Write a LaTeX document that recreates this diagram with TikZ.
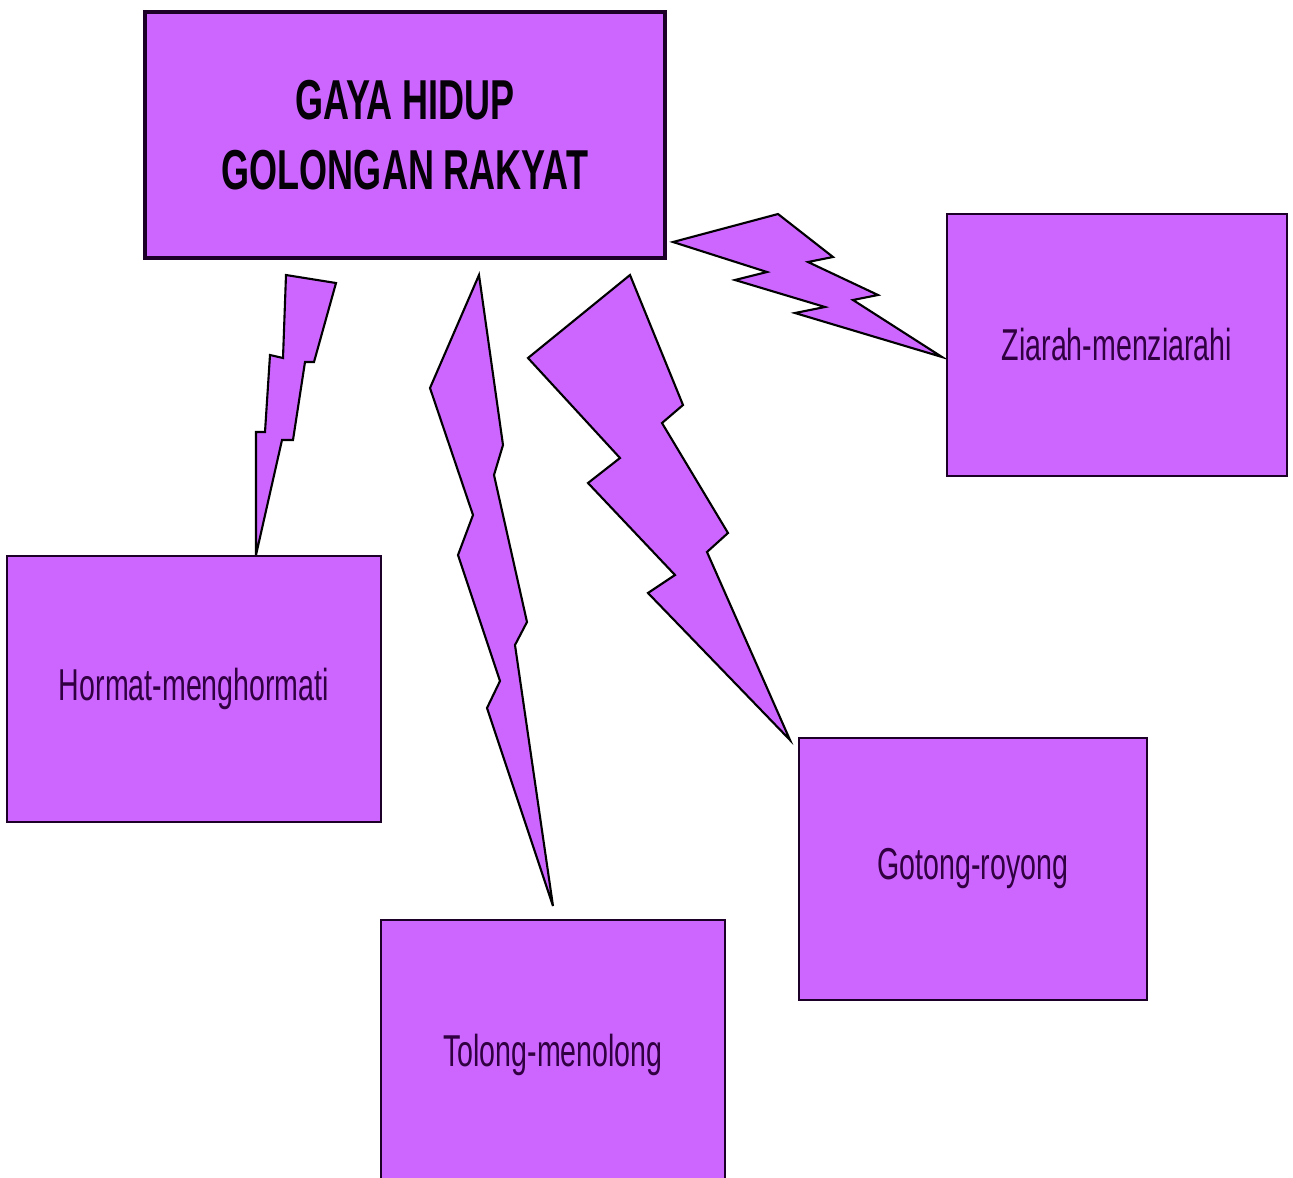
\documentclass[tikz,border=0pt]{standalone}
\usepackage{fontspec}
\setmainfont{Liberation Sans}[FakeStretch=0.64]
\usepackage{xcolor}
\usepackage{tikz}
\definecolor{boxfill}{RGB}{204,102,255}
\definecolor{boxline}{RGB}{28,0,40}
\definecolor{boxtext}{RGB}{48,0,64}
\tikzstyle{topicbox} = [rectangle, draw=boxline, line width=0.6pt, fill=boxfill, align=center, text=boxtext, inner sep=0pt, font=\fontsize{12.7}{15}\selectfont]
\tikzstyle{titlebox} = [topicbox, line width=1.2pt, text=black!80!boxline, font=\bfseries\fontsize{16}{20}\selectfont]
\tikzstyle{bolt} = [draw=black, line width=0.6pt, fill=boxfill, line join=miter]

\begin{document}
\begin{tikzpicture}[x=0.01cm, y=-0.01cm]
\useasboundingbox (0,0) rectangle (1293,1178);
\clip (0,0) rectangle (1293,1178);

% lightning bolts
\draw[bolt] (286,275) -- (336,283) -- (314,362) -- (305,362) -- (293,440) -- (282,440) -- (256,555) -- (256,432) -- (265,432) -- (270,355) -- (283,358) -- cycle;
\draw[bolt] (479,275) -- (503,445) -- (494,475) -- (527,622) -- (515,645) -- (553,906) -- (487,708) -- (500,681) -- (458,555) -- (473,515) -- (430,388) -- cycle;
\draw[bolt] (630,275) -- (683,405) -- (662,423) -- (728,533) -- (707,552) -- (790,740) -- (648,593) -- (675,575) -- (588,483) -- (620,458) -- (528,358) -- cycle;
\draw[bolt] (673,242) -- (778,214) -- (833,257) -- (808,262) -- (878,295) -- (853,300) -- (942,357) -- (795,313) -- (825,307) -- (735,280) -- (767,272) -- cycle;

\node[titlebox, minimum width=5.2cm, minimum height=2.46cm] (gaya) at (405,135) {GAYA HIDUP\\GOLONGAN RAKYAT};
\node[topicbox, minimum width=3.39cm, minimum height=2.61cm] (ziarah) at (1117,345) {Ziarah-menziarahi};
\node[topicbox, minimum width=3.73cm, minimum height=2.66cm] (hormat) at (194,689) {Hormat-menghormati};
\node[topicbox, minimum width=3.47cm, minimum height=2.62cm] (gotong) at (973,869) {Gotong-royong};
\node[topicbox, minimum width=3.44cm, minimum height=2.70cm] (tolong) at (553,1055) {Tolong-menolong};
\end{tikzpicture}
\end{document}
